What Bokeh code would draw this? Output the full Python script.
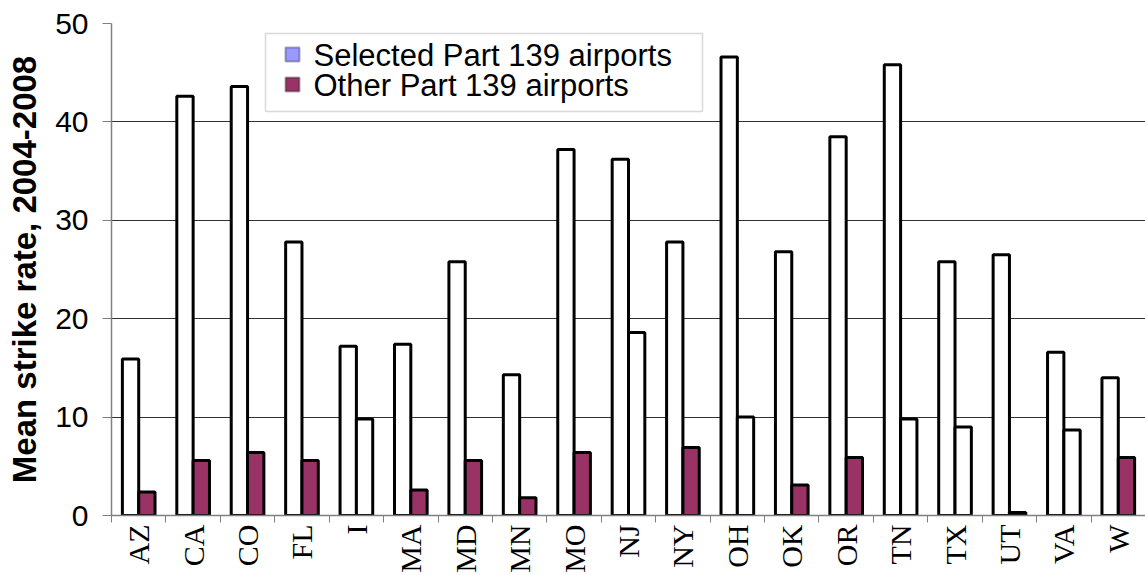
import math

from bokeh.embed import file_html
from bokeh.resources import INLINE
from bokeh.plotting import figure
from bokeh.models import (ColumnDataSource, Range1d, FixedTicker, BoxAnnotation,
                          Label)
from bokeh.transform import dodge

# Mean bird-strike rate by state, 2004-2008
states = ["AZ", "CA", "CO", "FL", "I", "MA", "MD", "MN", "MO", "NJ",
          "NY", "OH", "OK", "OR", "TN", "TX", "UT", "VA", "W"]
selected = [15.9, 42.6, 43.6, 27.8, 17.2, 17.4, 25.8, 14.3, 37.2, 36.2,
            27.8, 46.6, 26.8, 38.5, 45.8, 25.8, 26.5, 16.6, 14.0]
other = [2.4, 5.6, 6.4, 5.6, 9.8, 2.6, 5.6, 1.8, 6.4, 18.6,
         6.9, 10.0, 3.1, 5.9, 9.8, 9.0, 0.3, 8.7, 5.9]
y_ticks = [0, 10, 20, 30, 40, 50]
series_names = ["Selected Part 139 airports", "Other Part 139 airports"]

# states whose "other" bar is left unshaded
unshaded_other = ["I", "NJ", "OH", "TN", "TX", "VA"]

SEL_SWATCH = "#9999FF"
OTHER_FILL = "#993366"

n = len(states)
pos = [i + 0.5 for i in range(n)]
other_fill = ["white" if s in unshaded_other else OTHER_FILL for s in states]

src = ColumnDataSource(dict(pos=pos, state=states, selected=selected,
                            other=other, other_fill=other_fill))

p = figure(width=1145, height=575, output_backend="svg", toolbar_location=None,
           x_range=Range1d(0, n), y_range=Range1d(0, 50),
           min_border_left=111, min_border_right=0, min_border_top=23,
           min_border_bottom=60)
p.outline_line_color = None
p.background_fill_color = "white"
p.border_fill_color = "white"

p.vbar(x=dodge("pos", -0.15, range=p.x_range), top="selected", bottom=0,
       width=0.3, source=src, fill_color="white", line_color="black",
       line_width=3)
p.vbar(x=dodge("pos", 0.15, range=p.x_range), top="other", bottom=0,
       width=0.3, source=src, fill_color="other_fill", line_color="black",
       line_width=3)

# legend: box, swatches and names (screen pixels from the frame's lower-left)
SCREEN = dict(left_units="screen", right_units="screen",
              bottom_units="screen", top_units="screen")
p.add_layout(BoxAnnotation(left=154, right=591, bottom=404, top=482,
                           fill_color="white", fill_alpha=1.0,
                           line_color="#808080", line_width=1.5, **SCREEN))
for name, swatch, row_y in zip(series_names, [SEL_SWATCH, OTHER_FILL], [461, 431]):
    p.add_layout(BoxAnnotation(left=174, right=188, bottom=row_y - 7,
                               top=row_y + 7, fill_color=swatch, fill_alpha=1.0,
                               line_color="black", line_width=2, **SCREEN))
    p.add_layout(Label(x=202, y=row_y - 1, x_units="screen", y_units="screen",
                       text=name, text_font="Liberation Sans",
                       text_font_size="31px", text_color="black",
                       text_baseline="alphabetic", text_align="left"))

# y axis
p.yaxis.ticker = FixedTicker(ticks=y_ticks)
p.yaxis.axis_label = "Mean strike rate, 2004-2008"
p.yaxis.axis_label_text_font = "Liberation Sans"
p.yaxis.axis_label_text_font_style = "bold"
p.yaxis.axis_label_text_font_size = "33px"
p.yaxis.axis_label_text_color = "black"
p.yaxis.axis_label_standoff = 9
p.yaxis.major_label_text_font = "Liberation Sans"
p.yaxis.major_label_text_font_size = "30px"
p.yaxis.major_label_text_color = "black"
p.yaxis.major_label_standoff = 14
p.yaxis.axis_line_color = "#808080"
p.yaxis.axis_line_width = 1.5
p.yaxis.major_tick_line_color = "#808080"
p.yaxis.major_tick_out = 9
p.yaxis.major_tick_in = 0
p.yaxis.minor_tick_line_color = None

# x axis: state names at category centres, tick marks between states
p.xaxis.ticker = FixedTicker(ticks=pos, minor_ticks=list(range(n + 1)))
p.xaxis.major_label_overrides = {x: s for x, s in zip(pos, states)}
p.xaxis.major_label_orientation = math.pi / 2
p.xaxis.major_label_text_font = "Liberation Serif"
p.xaxis.major_label_text_font_size = "30px"
p.xaxis.major_label_text_color = "black"
p.xaxis.major_label_standoff = 2
p.xaxis.major_tick_line_color = None
p.xaxis.major_tick_out = 0
p.xaxis.major_tick_in = 0
p.xaxis.minor_tick_line_color = "#808080"
p.xaxis.minor_tick_out = 7
p.xaxis.minor_tick_in = 0
p.xaxis.axis_line_color = "#808080"
p.xaxis.axis_line_width = 1.5

p.xgrid.grid_line_color = None
p.ygrid.ticker = FixedTicker(ticks=y_ticks)
p.ygrid.grid_line_color = "#303030"
p.ygrid.grid_line_width = 1

open("out.html", "w").write(file_html(p, INLINE))
